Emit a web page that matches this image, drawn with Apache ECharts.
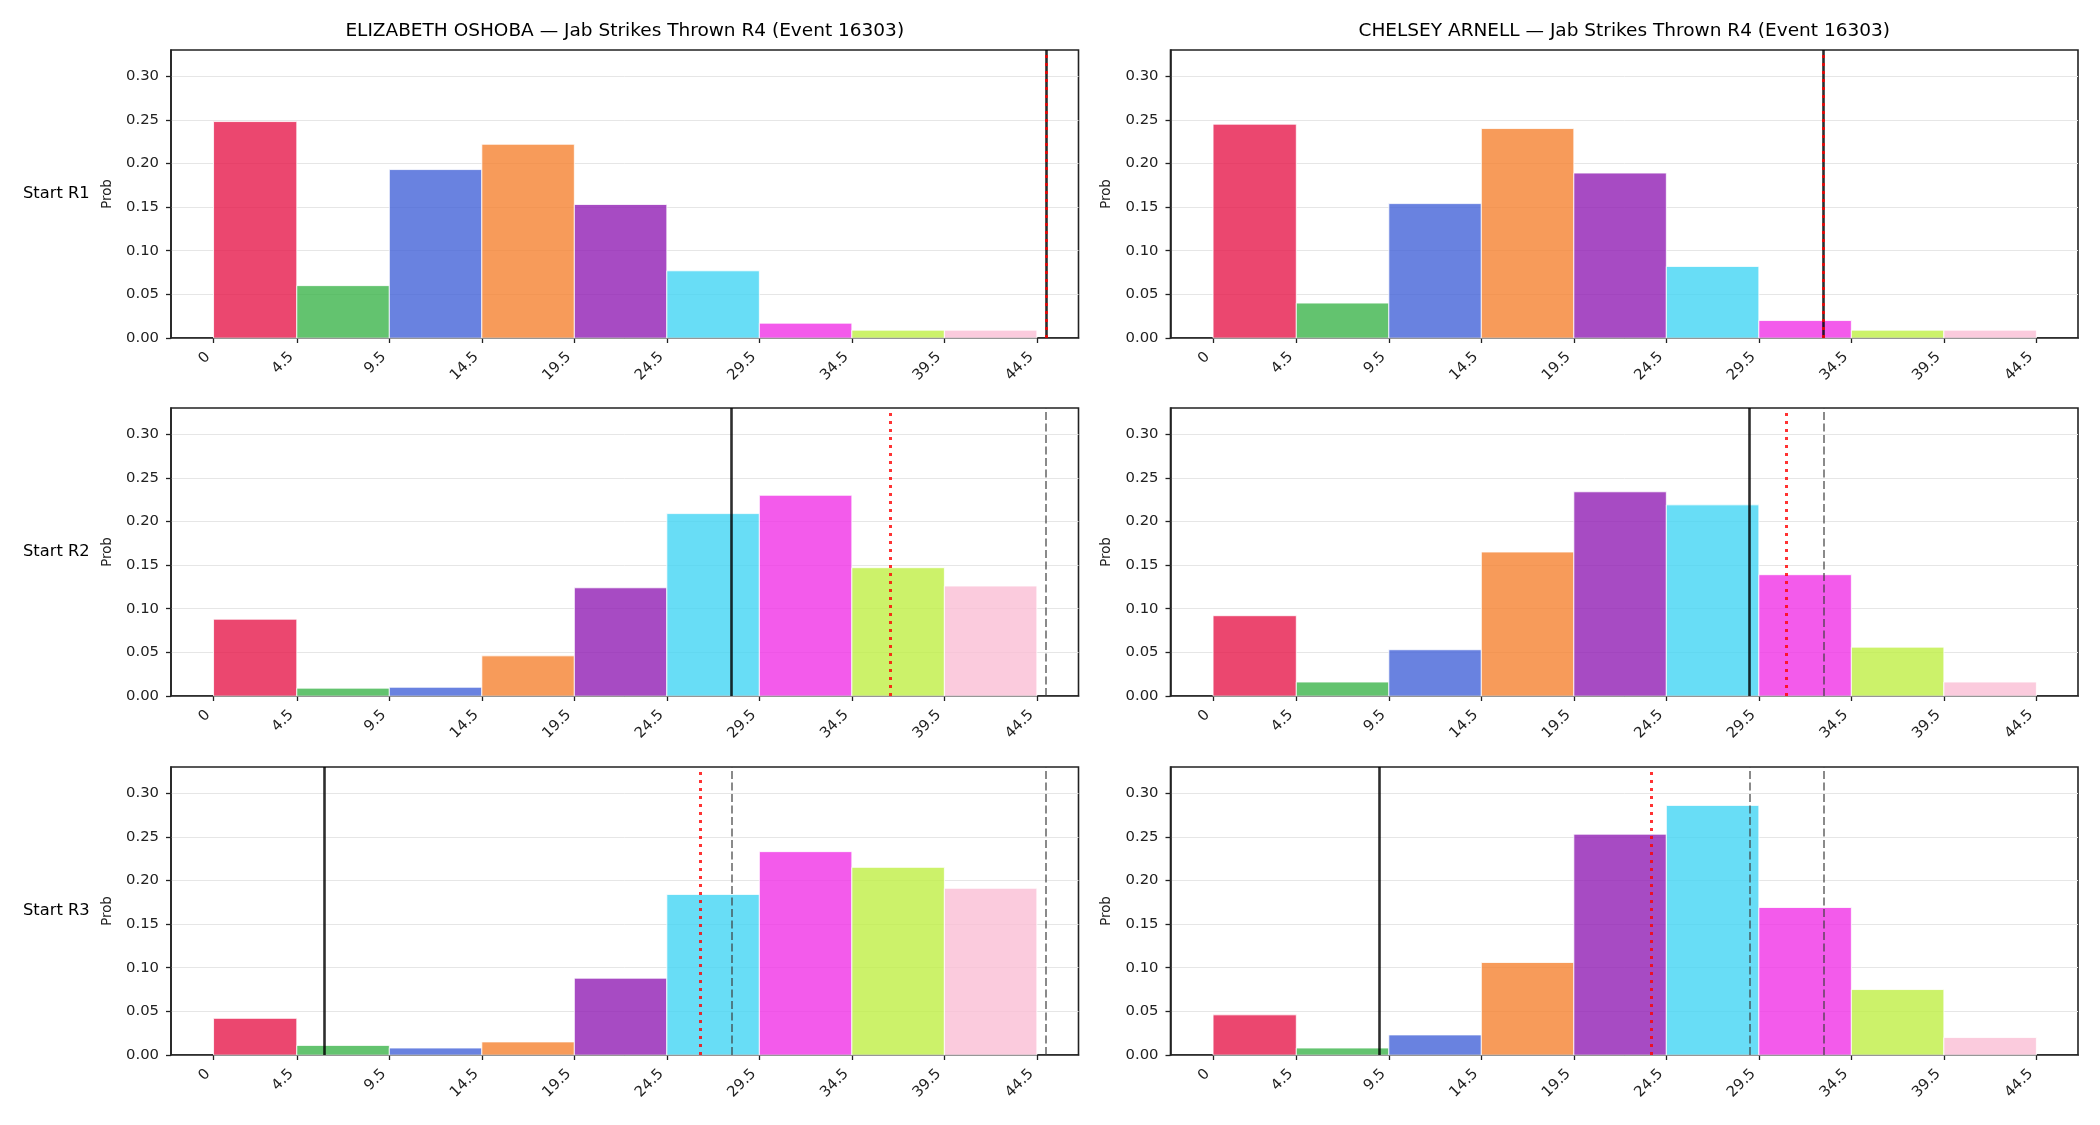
<!DOCTYPE html>
<html>
<head>
<meta charset="utf-8">
<script src="https://cdn.jsdelivr.net/npm/echarts@6/dist/echarts.min.js"></script>
<style>
  html, body { margin: 0; padding: 0; background: #fff; }
  #main { width: 2100px; height: 1125px; }
</style>
</head>
<body>
<div id="main"></div>
<script>
// histogram bins (edges) and tick labels
const binEdges = [0, 4.5, 9.5, 14.5, 19.5, 24.5, 29.5, 34.5, 39.5, 44.5];
const xTicks = [0, 4.5, 9.5, 14.5, 19.5, 24.5, 29.5, 34.5, 39.5, 44.5];
const yTicks = [0, 0.05, 0.10, 0.15, 0.20, 0.25, 0.30];

const fighters = ['ELIZABETH OSHOBA', 'CHELSEY ARNELL'];
const rowLabels = ['Start R1', 'Start R2', 'Start R3'];

// probabilities per bin, [row][fighter]
const probOshobaR1 = [0.248, 0.060, 0.193, 0.222, 0.153, 0.077, 0.017, 0.009, 0.009];
const probArnellR1 = [0.245, 0.040, 0.154, 0.240, 0.189, 0.082, 0.020, 0.009, 0.009];
const probOshobaR2 = [0.088, 0.009, 0.010, 0.046, 0.124, 0.209, 0.230, 0.147, 0.126];
const probArnellR2 = [0.092, 0.016, 0.053, 0.165, 0.234, 0.219, 0.139, 0.056, 0.016];
const probOshobaR3 = [0.042, 0.011, 0.008, 0.015, 0.088, 0.184, 0.233, 0.215, 0.191];
const probArnellR3 = [0.046, 0.008, 0.023, 0.106, 0.253, 0.286, 0.169, 0.075, 0.020];
const probs = [
  [probOshobaR1, probArnellR1],
  [probOshobaR2, probArnellR2],
  [probOshobaR3, probArnellR3]
];

// reference lines: current (solid), projection (dotted), earlier rounds (dashed)
const solidLines = [[45, 33], [28, 29], [6, 9]];
const dottedLines = [[45, 33], [36.6, 31.0], [26.3, 23.7]];
const dashedLines = [[[], []], [[45], [33]], [[28, 45], [29, 33]]];

const barColors = ['#e6194b', '#3cb44b', '#4363d8', '#f58231', '#911eb4',
                   '#42d4f4', '#f032e6', '#bfef45', '#fabed4'];

const FONT = 'DejaVu Sans';
const INK = '#222';
const colLeft = [171, 1170.5];
const colWidth = 907.5;
const rowTop = [50, 408, 767];
const rowHeight = 288;

const chart = echarts.init(document.getElementById('main'));

const grids = [], xAxes = [], yAxes = [], series = [], graphics = [];

probs.forEach((row, r) => {
  row.forEach((vals, c) => {
    const idx = grids.length;
    grids.push({
      left: colLeft[c], top: rowTop[r], width: colWidth, height: rowHeight,
      show: true, borderColor: INK, borderWidth: 1.6, backgroundColor: 'transparent'
    });
    xAxes.push({
      type: 'value', gridIndex: idx, min: -2.3, max: 46.75,
      axisLine: { show: true, onZero: false, lineStyle: { color: INK, width: 1.6 } },
      axisTick: { show: true, length: 5, lineStyle: { color: INK, width: 1.3 }, customValues: xTicks },
      axisLabel: {
        customValues: xTicks, rotate: 45, margin: 11, padding: [0, 8, 0, 0],
        color: INK, fontFamily: FONT, fontSize: 14.8,
        formatter: v => String(v)
      },
      splitLine: { show: false }
    });
    yAxes.push({
      type: 'value', gridIndex: idx, min: 0, max: 0.33,
      axisLine: { show: true, onZero: false, lineStyle: { color: INK, width: 1.6 } },
      axisTick: { show: true, length: 5, lineStyle: { color: INK, width: 1.3 }, customValues: yTicks },
      axisLabel: {
        customValues: yTicks, margin: 12,
        color: INK, fontFamily: FONT, fontSize: 14.8,
        formatter: v => v.toFixed(2)
      },
      splitLine: { show: true, lineStyle: { color: '#e6e6e6', width: 1 } }
    });

    const bars = vals.map((p, i) => [binEdges[i], binEdges[i + 1], p]);
    series.push({
      type: 'custom', xAxisIndex: idx, yAxisIndex: idx,
      encode: { x: [0, 1], y: 2 },
      data: bars,
      renderItem: (params, api) => {
        const top = api.coord([api.value(0), api.value(2)]);
        const bot = api.coord([api.value(1), 0]);
        return {
          type: 'rect',
          shape: { x: top[0], y: top[1], width: bot[0] - top[0], height: bot[1] - top[1] },
          style: { fill: barColors[params.dataIndex], opacity: 0.8, stroke: '#fff', lineWidth: 1 }
        };
      }
    });

    const ml = [];
    dashedLines[r][c].forEach(x => ml.push({
      xAxis: x, lineStyle: { color: 'rgba(60,60,60,0.6)', width: 2, type: [8, 3.5] }
    }));
    ml.push({ xAxis: solidLines[r][c], lineStyle: { color: 'rgba(0,0,0,0.82)', width: 2.6, type: 'solid' } });
    ml.push({ xAxis: dottedLines[r][c], lineStyle: { color: 'rgba(255,0,0,0.8)', width: 3, type: [3, 5] } });
    series.push({
      type: 'line', xAxisIndex: idx, yAxisIndex: idx, data: [],
      markLine: { silent: true, symbol: ['none', 'none'], label: { show: false }, animation: false, data: ml }
    });

    // y axis name
    graphics.push({
      type: 'text', x: colLeft[c] - 63.5, y: rowTop[r] + rowHeight / 2, rotation: Math.PI / 2,
      style: { text: 'Prob', font: '13.3px "DejaVu Sans"', fill: INK, align: 'center', verticalAlign: 'middle' }
    });
  });
  graphics.push({
    type: 'text', x: 23, y: rowTop[r] + rowHeight / 2,
    style: { text: rowLabels[r], font: '16.3px "DejaVu Sans"', fill: '#000', align: 'left', verticalAlign: 'middle' }
  });
});

fighters.forEach((name, c) => {
  graphics.push({
    type: 'text', x: colLeft[c] + colWidth / 2, y: 31,
    style: {
      text: name + ' \u2014 Jab Strikes Thrown R4 (Event 16303)',
      font: '18.5px "DejaVu Sans"', fill: '#000', align: 'center', verticalAlign: 'middle'
    }
  });
});

chart.setOption({
  animation: false,
  backgroundColor: '#fff',
  grid: grids,
  xAxis: xAxes,
  yAxis: yAxes,
  series: series,
  graphic: graphics
});
</script>
</body>
</html>
